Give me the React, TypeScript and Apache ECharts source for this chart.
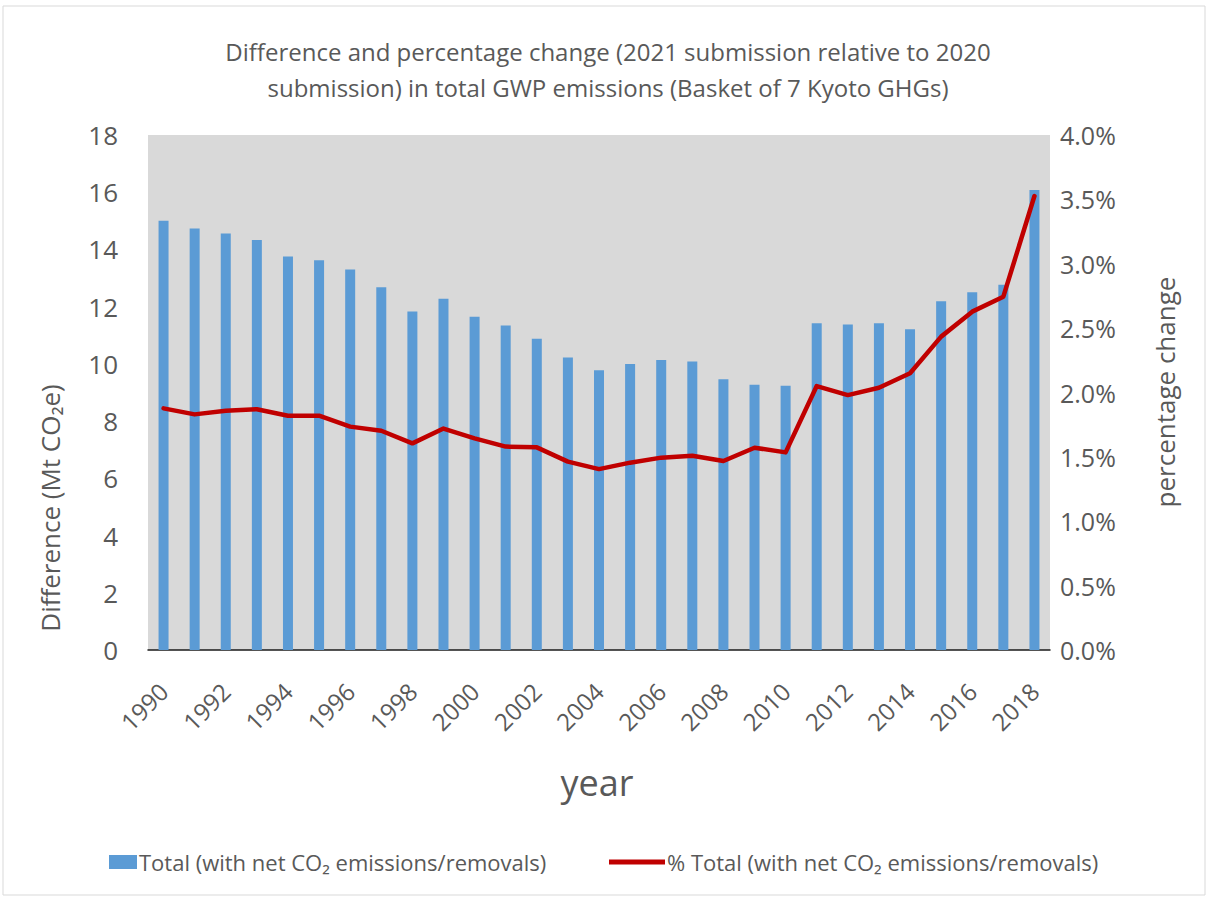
import React, { useEffect, useRef } from "react";
import * as echarts from "echarts";

const years = [
  "1990", "1991", "1992", "1993", "1994", "1995", "1996", "1997", "1998", "1999",
  "2000", "2001", "2002", "2003", "2004", "2005", "2006", "2007", "2008", "2009",
  "2010", "2011", "2012", "2013", "2014", "2015", "2016", "2017", "2018",
];
const differenceMt = [
  15.0, 14.73, 14.56, 14.33, 13.75, 13.62, 13.3, 12.68, 11.83, 12.28,
  11.65, 11.34, 10.88, 10.22, 9.78, 10.0, 10.14, 10.08, 9.46, 9.27,
  9.24, 11.42, 11.38, 11.42, 11.21, 12.19, 12.5, 12.77, 16.08,
];
const percentChange = [
  1.877, 1.83, 1.859, 1.87, 1.82, 1.82, 1.735, 1.703, 1.605, 1.72,
  1.644, 1.58, 1.574, 1.463, 1.405, 1.455, 1.494, 1.509, 1.468, 1.571,
  1.535, 2.05, 1.98, 2.037, 2.149, 2.434, 2.628, 2.744, 3.526,
];

const barName = "Total (with net CO\u2082 emissions/removals)";
const lineName = "% Total (with net CO\u2082 emissions/removals)";
const titleText =
  "Difference and percentage change (2021 submission relative to 2020\nsubmission) in total GWP emissions (Basket of 7 Kyoto GHGs)";

const FONT = "'Open Sans', 'Noto Sans', sans-serif";
const TXT = "#595959";

export default function App() {
  const ref = useRef<HTMLDivElement>(null);
  useEffect(() => {
    if (!ref.current) return;
    const chart = echarts.init(ref.current, undefined, { renderer: "svg" });
    chart.setOption({
      animation: false,
      backgroundColor: "#ffffff",
      textStyle: { fontFamily: FONT, color: TXT },
      title: {
        text: titleText,
        left: 603,
        top: 28,
        textAlign: "center",
        textStyle: {
          fontFamily: FONT,
          fontSize: 24,
          fontWeight: "normal",
          color: TXT,
          lineHeight: 36,
        },
      },
      graphic: [
        {
          type: "rect",
          shape: { x: 3, y: 6, width: 1202, height: 889 },
          style: { fill: "none", stroke: "#d9d9d9", lineWidth: 1 },
          silent: true,
        },
        {
          type: "text",
          x: 50,
          y: 508,
          rotation: Math.PI / 2,
          style: {
            text: "Difference (Mt CO\u2082e)",
            fontFamily: FONT,
            fontSize: 26,
            fill: TXT,
            align: "center",
            verticalAlign: "middle",
          },
        },
        {
          type: "text",
          x: 1165,
          y: 392,
          rotation: Math.PI / 2,
          style: {
            text: "percentage change",
            fontFamily: FONT,
            fontSize: 26,
            fill: TXT,
            align: "center",
            verticalAlign: "middle",
          },
        },
        {
          type: "text",
          x: 597,
          y: 782,
          style: {
            text: "year",
            fontFamily: FONT,
            fontSize: 36,
            fill: TXT,
            align: "center",
            verticalAlign: "middle",
          },
        },
      ],
      legend: [
        {
          data: [barName],
          left: 104,
          top: 846,
          itemWidth: 28,
          itemHeight: 14,
          itemGap: 4,
          icon: "rect",
          textStyle: { fontFamily: FONT, fontSize: 22, color: TXT, padding: [0, 0, 0, -3] },
        },
        {
          data: [lineName],
          left: 604,
          top: 846,
          itemWidth: 56,
          itemHeight: 5,
          icon: "rect",
          textStyle: { fontFamily: FONT, fontSize: 22, color: TXT, padding: [0, 0, 0, -3] },
        },
      ],
      grid: {
        left: 148,
        right: 158,
        top: 135,
        bottom: 248,
        show: true,
        backgroundColor: "#d9d9d9",
        borderWidth: 0,
      },
      xAxis: {
        type: "category",
        data: years,
        boundaryGap: true,
        axisLine: { show: true, lineStyle: { color: "#1a1a1a", width: 1.5 } },
        axisTick: { show: false },
        splitLine: { show: false },
        axisLabel: {
          interval: 1,
          rotate: 45,
          margin: 37,
          fontFamily: FONT,
          fontSize: 24,
          color: TXT,
        },
      },
      yAxis: [
        {
          type: "value",
          min: 0,
          max: 18,
          interval: 2,
          axisLine: { show: false },
          axisTick: { show: false },
          splitLine: { show: false },
          axisLabel: { margin: 30, fontFamily: FONT, fontSize: 26, color: TXT },
        },
        {
          type: "value",
          min: 0,
          max: 4,
          interval: 0.5,
          position: "right",
          axisLine: { show: false },
          axisTick: { show: false },
          splitLine: { show: false },
          axisLabel: {
            margin: 10,
            fontFamily: FONT,
            fontSize: 25,
            color: TXT,
            formatter: (v: number) => v.toFixed(1) + "%",
          },
        },
      ],
      series: [
        {
          name: barName,
          type: "bar",
          data: differenceMt,
          barWidth: 10,
          itemStyle: { color: "#5b9bd5" },
        },
        {
          name: lineName,
          type: "line",
          yAxisIndex: 1,
          data: percentChange,
          symbol: "none",
          lineStyle: { color: "#c00000", width: 4.5, join: "round", cap: "round" },
          itemStyle: { color: "#c00000" },
        },
      ],
    });
    return () => chart.dispose();
  }, []);
  return (
    <div
      ref={ref}
      style={{ position: "fixed", left: 0, top: 0, width: 1208, height: 898 }}
    />
  );
}
